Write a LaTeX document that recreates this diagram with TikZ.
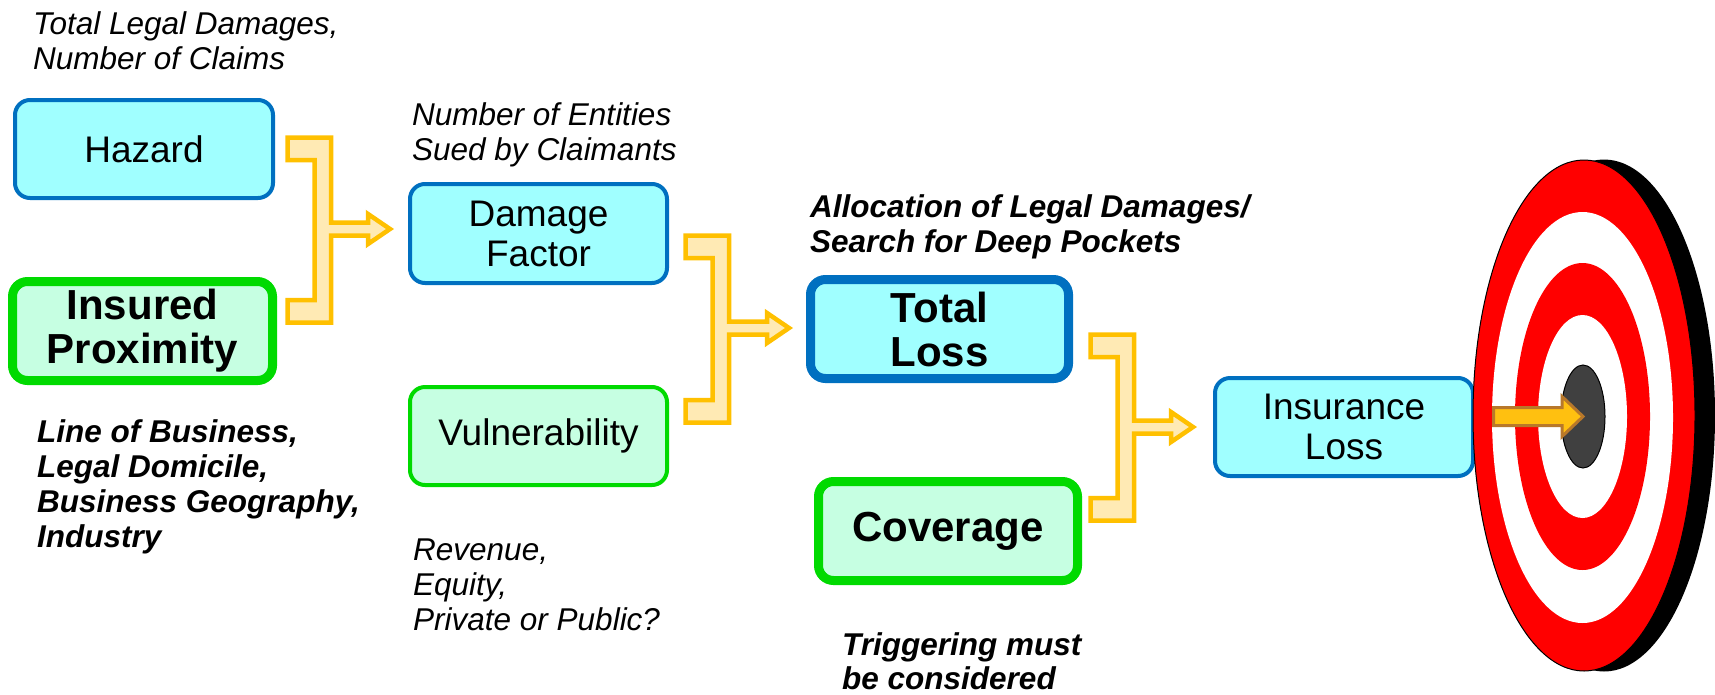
\documentclass[tikz,border=0pt]{standalone}
\usepackage{fontspec}
\setmainfont{Liberation Sans}
\usetikzlibrary{calc}
\definecolor{boxcyan}{HTML}{A0FFFF}
\definecolor{boxblue}{HTML}{0070C0}
\definecolor{boxmint}{HTML}{C6FFE2}
\definecolor{boxgreen}{HTML}{00DA00}
\definecolor{brkline}{HTML}{FFC000}
\definecolor{brkfill}{HTML}{FFEAB4}
\definecolor{tgtred}{HTML}{FF0000}
\definecolor{tgtcore}{HTML}{404040}
\definecolor{arrfill}{HTML}{FFC010}
\definecolor{arredge}{HTML}{B8782A}
\tikzset{
  box/.style={rounded corners=15pt, align=center, inner sep=0pt},
  regtext/.style={font=\fontsize{37}{40}\selectfont},
  boldtext/.style={font=\fontsize{42}{44}\selectfont\bfseries},
  bluethin/.style={box, regtext, draw=boxblue, fill=boxcyan, line width=4pt},
  greenthin/.style={box, regtext, draw=boxgreen, fill=boxmint, line width=4pt},
  bluethick/.style={box, boldtext, draw=boxblue, fill=boxcyan, line width=9pt},
  greenthick/.style={box, boldtext, draw=boxgreen, fill=boxmint, line width=9pt},
  note/.style={anchor=base west, inner sep=0pt, font=\fontsize{31.5}{35}\selectfont\itshape},
  boldnote/.style={anchor=base west, inner sep=0pt, font=\fontsize{31.5}{35}\selectfont\bfseries\itshape},
  brk/.style={draw=brkline, fill=brkfill, line width=4.5pt, line join=miter},
  tgtarrow/.style={draw=arredge, fill=arrfill, line width=3pt, line join=miter}
}
% #1 left, #2 top, #3 bottom, #4 shaft centre y, #5 tip x (outer measurements)
\newcommand\brkarrow[5]{%
  \draw[brk] ({#1+2.5},{#2+2.5}) -- ({#1+46},{#2+2.5}) -- ({#1+46},{#4-6.5})
    -- ({#5-25},{#4-6.5}) -- ({#5-25},{#4-15}) -- ({#5-3},{#4}) -- ({#5-25},{#4+15})
    -- ({#5-25},{#4+6.5}) -- ({#1+46},{#4+6.5}) -- ({#1+46},{#3-2.5})
    -- ({#1+2.5},{#3-2.5}) -- ({#1+2.5},{#3-25}) -- ({#1+29.5},{#3-25})
    -- ({#1+29.5},{#2+25}) -- ({#1+2.5},{#2+25}) -- cycle;}
\begin{document}
\begin{tikzpicture}[x=1pt,y=-1pt]
\useasboundingbox (0,0) rectangle (1715,694);

% boxes
\node[bluethin, minimum width=258pt, minimum height=98pt] (haz) at (144,149) {Hazard};
\node[greenthick, minimum width=260pt, minimum height=99pt] (ins) at (142.5,331) {Insured\\Proximity};
\node[bluethin, minimum width=257pt, minimum height=99pt] (dmg) at (538.5,233.5) {Damage\\Factor};
\node[greenthin, minimum width=257pt, minimum height=98pt] (vul) at (538.5,436) {Vulnerability};
\node[bluethick, minimum width=258pt, minimum height=99pt] (tot) at (939.5,329) {Total\\Loss};
\node[greenthick, minimum width=259pt, minimum height=99pt] (cov) at (948,531) {Coverage};
\node[bluethin, minimum width=258pt, minimum height=98pt] (inl) at (1344,427) {Insurance\\Loss};

% bracket arrows
\brkarrow{285}{135}{325}{229}{393}
\brkarrow{683}{233}{425}{328}{792}
\brkarrow{1088}{332}{523}{427}{1196}

% annotations
\node[note] (n1) at (33,34) {\begin{tabular}[t]{@{}l@{}}Total Legal Damages,\\Number of Claims\end{tabular}};
\node[note] (n2) at (412,125) {\begin{tabular}[t]{@{}l@{}}Number of Entities\\Sued by Claimants\end{tabular}};
\node[boldnote] (n3) at (810,217) {\begin{tabular}[t]{@{}l@{}}Allocation of Legal Damages/\\Search for Deep Pockets\end{tabular}};
\node[boldnote] (n4) at (37,442) {\begin{tabular}[t]{@{}l@{}}Line of Business,\\Legal Domicile,\\Business Geography,\\Industry\end{tabular}};
\node[note] (n5) at (413,560) {\begin{tabular}[t]{@{}l@{}}Revenue,\\Equity,\\Private or Public?\end{tabular}};
\node[boldnote] (n6a) at (842,655) {Triggering must};
\node[boldnote] (n6b) at (842,689) {be considered};

% target
\fill[black] (1604,415.5) ellipse [x radius=111pt, y radius=256pt];
\draw[fill=tgtred, draw=black, line width=1pt] (1584,415.5) ellipse [x radius=111pt, y radius=255.5pt];
\fill[white] (1582.5,417.5) ellipse [x radius=90.5pt, y radius=205.5pt];
\fill[tgtred] (1582.5,416.5) ellipse [x radius=67.5pt, y radius=153.5pt];
\fill[white] (1582.5,416.5) ellipse [x radius=44.5pt, y radius=101.5pt];
\draw[fill=tgtcore, draw=black, line width=1pt] (1583,416.5) ellipse [x radius=22pt, y radius=51.5pt];
\draw[tgtarrow] (1493.5,407.5) -- (1562,407.5) -- (1562,396.5) -- (1583,416.5)
  -- (1562,436.5) -- (1562,425.5) -- (1493.5,425.5) -- cycle;
\end{tikzpicture}
\end{document}
